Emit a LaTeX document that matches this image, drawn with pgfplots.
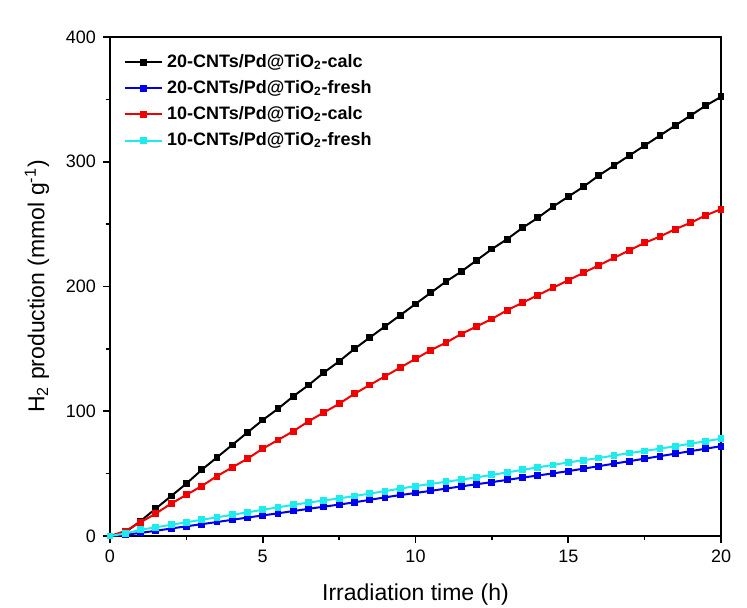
\documentclass[border=0pt]{standalone}
\usepackage{fontspec}
\setmainfont{Liberation Sans}
\usepackage{pgfplots}
\pgfplotsset{compat=1.18}
\definecolor{aqua}{RGB}{30,235,235}
\definecolor{pureblue}{RGB}{0,0,235}
\definecolor{purered}{RGB}{240,0,0}

% H2 evolution (time in h, H2 in mmol/g)
\pgfplotstableread{
t    c20calc  c20fresh  c10calc  c10fresh
0    0        0         0        0
0.5  3        1.0       4        2
1    12       2.5       11       5
1.5  22       4.2       18       7
2    32       6.0       26       9
2.5  42       7.8       33       11
3    53       9.5       40       13
3.5  63       11.2      48       15
4    73       13.0      55       17
4.5  83       14.8      62       19
5    93       16.5      70       21
5.5  102      18.2      77       23
6    112      20.0      84       25
6.5  121      21.8      92       26.8
7    131      23.5      99       28.5
7.5  140      25.2      106      30.2
8    150      27.0      114      32
8.5  159      29.0      121      34
9    168      31.0      128      36
9.5  177      32.8      135      38
10   186      34.5      142      40
10.5 195      36.2      149      41.8
11   204      38.0      155      43.5
11.5 212      39.8      162      45.2
12   221      41.5      168      47
12.5 230      43.2      174      49
13   238      45.0      181      51
13.5 247      46.8      187      53
14   255      48.5      193      55
14.5 264      50.2      199      57
15   272      52.0      205      59
15.5 280      54.0      211      60.8
16   289      56.0      217      62.5
16.5 297      58.0      223      64.5
17   305      60.0      229      66.5
17.5 313      62.0      235      68.2
18   321      64.0      240      70
18.5 329      66.0      246      72
19   337      68.0      251      74
19.5 345      70.0      257      76
20   352      72.0      262      78
}\htdata

\begin{document}
\begin{tikzpicture}
\begin{axis}[
  scale only axis,
  width=305.5pt, height=249.5pt,
  xmin=0, xmax=20, ymin=0, ymax=400,
  xtick={0,5,...,20}, ytick={0,100,...,400},
  minor x tick num=1, minor y tick num=1,
  tick pos=left, tick align=outside,
  major tick length=3.5pt, minor tick length=2pt,
  axis line style={line width=0.9pt},
  every tick/.style={line width=0.8pt, black},
  /pgf/number format/assume math mode=true,
  tick label style={font=\fontsize{9}{10}\selectfont},
  xlabel={Irradiation time (h)},
  ylabel={H\textsubscript{2} production (mmol g\textsuperscript{-1})},
  label style={font=\fontsize{11.5}{13}\selectfont},
  xlabel style={at={(axis description cs:0.5,-0.118)}, anchor=center},
  ylabel style={at={(axis description cs:-0.1195,0.5)}, anchor=center, rotate=0},
  legend cell align=left,
  legend style={draw=none, fill=none, at={(axis description cs:0.015,0.982)},
    anchor=north west, font=\bfseries\fontsize{9}{11}\selectfont,
    row sep=1pt, inner sep=2pt},
  legend image code/.code={%
    \draw[mark repeat=2, mark phase=2]
      plot coordinates {(0cm,0cm) (0.33cm,0cm) (0.66cm,0cm)};},
  every axis plot/.append style={line width=1pt, mark=square*, mark size=1.2pt},
]
\addplot[black, mark options={fill=black}] table[x=t, y=c20calc] {\htdata};
\addlegendentry{20-CNTs/Pd@TiO\textsubscript{2}-calc}
\addplot[pureblue, mark options={fill=pureblue}] table[x=t, y=c20fresh] {\htdata};
\addlegendentry{20-CNTs/Pd@TiO\textsubscript{2}-fresh}
\addplot[purered, mark options={fill=purered}] table[x=t, y=c10calc] {\htdata};
\addlegendentry{10-CNTs/Pd@TiO\textsubscript{2}-calc}
\addplot[aqua, mark options={fill=aqua}] table[x=t, y=c10fresh] {\htdata};
\addlegendentry{10-CNTs/Pd@TiO\textsubscript{2}-fresh}
\end{axis}
\pgfresetboundingbox
\path[use as bounding box] (current axis.south west) ++(-55pt,-35.5pt)
  rectangle ([shift={(13pt,18.5pt)}]current axis.north east);
\end{tikzpicture}
\end{document}
